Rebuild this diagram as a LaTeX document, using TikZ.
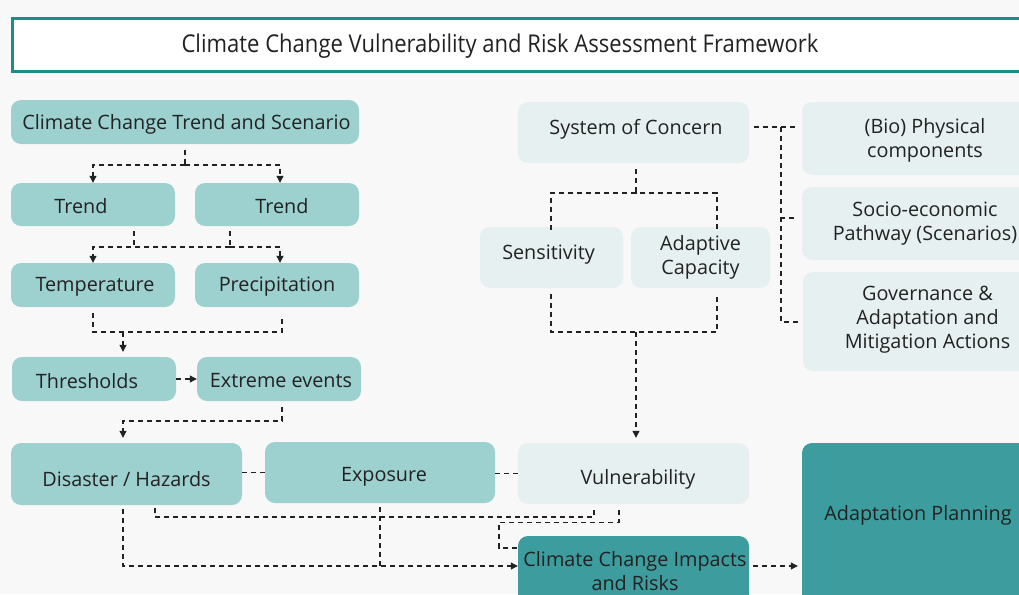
\documentclass[tikz,border=0pt]{standalone}
\usepackage{fontspec}
\setmainfont{Open Sans}
\newfontfamily\titlefont[FakeStretch=0.9]{Open Sans}
\usetikzlibrary{arrows.meta}
\definecolor{bg}{HTML}{F8F8F8}
\definecolor{midteal}{HTML}{9CD1D0}
\definecolor{lightteal}{HTML}{E6F0F1}
\definecolor{darkteal}{HTML}{3D9C9D}
\definecolor{frame}{HTML}{1F8C8C}
\definecolor{txt}{HTML}{222222}
\definecolor{linec}{HTML}{222222}
\tikzset{
  box/.style={rounded corners=10pt, draw=none, inner sep=0pt},
  mid/.style={box, fill=midteal},
  light/.style={box, fill=lightteal},
  dark/.style={box, fill=darkteal},
  lbl/.style={font=\fontsize{19.8}{24}\selectfont, text=txt, align=center, inner sep=0pt, yshift=-2pt},
  conn/.style={draw=linec, line width=1.1pt, dash pattern=on 5pt off 4pt},
  arr/.style={conn, -{Triangle[width=7pt,length=7pt]}},
  titlebox/.style={draw=frame, line width=3pt, fill=white},
}
\begin{document}
\begin{tikzpicture}[x=1pt,y=-1pt]
\useasboundingbox (0,0) rectangle (1019,594);
\clip (0,0) rectangle (1019,594);
\fill[bg] (0,0) rectangle (1019,594);

% title
\node[titlebox, minimum width=1040pt, minimum height=53pt, anchor=north west] (tbox) at (11,17) {};
\node[lbl, font=\titlefont\fontsize{24.5}{28}\selectfont] (title) at (500,44) {Climate Change Vulnerability and Risk Assessment Framework};

% left column
\node[mid, minimum width=348pt, minimum height=44pt, label={[lbl, xshift=1.5pt]center:Climate Change Trend and Scenario}] (ccts) at (185,122) {};
\node[mid, minimum width=164pt, minimum height=43pt, label={[lbl, xshift=-12pt]center:Trend}] (trend1) at (93,204.5) {};
\node[mid, minimum width=164pt, minimum height=43pt, label={[lbl, xshift=5pt]center:Trend}] (trend2) at (277,204.5) {};
\node[mid, minimum width=164pt, minimum height=44pt, label={[lbl, xshift=2pt]center:Temperature}] (temp) at (93,285) {};
\node[mid, minimum width=164pt, minimum height=44pt, label={[lbl]center:Precipitation}] (precip) at (277,285) {};
\node[mid, minimum width=164pt, minimum height=44pt, label={[lbl, xshift=-7pt]center:Thresholds}] (thresh) at (94,379) {};
\node[mid, minimum width=164pt, minimum height=44pt, label={[lbl, xshift=2pt]center:Extreme events}] (extreme) at (279,379) {};
\node[mid, minimum width=231pt, minimum height=62pt, label={[lbl, yshift=-3pt]center:Disaster / Hazards}] (disaster) at (126.5,474) {};
\node[mid, minimum width=230pt, minimum height=61pt, label={[lbl, xshift=4pt, yshift=-2.5pt]center:Exposure}] (exposure) at (380,472.5) {};

% middle column
\node[light, minimum width=231pt, minimum height=61pt, label={[lbl, xshift=2.5pt, yshift=5.5pt]center:System of Concern}] (soc) at (633.5,132.5) {};
\node[light, minimum width=143pt, minimum height=61pt, label={[lbl, xshift=-3pt, yshift=4.5pt]center:Sensitivity}] (sens) at (551.5,257.5) {};
\node[light, minimum width=139pt, minimum height=61pt, label={[lbl, yshift=2.5pt]center:Adaptive\\Capacity}] (adcap) at (700.5,257.5) {};
\node[light, minimum width=231pt, minimum height=61pt, label={[lbl, xshift=4.5pt, yshift=-3.5pt]center:Vulnerability}] (vuln) at (633.5,473.5) {};
\node[dark, minimum width=231pt, minimum height=68pt, label={[lbl, xshift=1.5pt, yshift=1pt]center:Climate Change Impacts\\and Risks}] (ccir) at (633.5,570) {};

% right column
\node[light, minimum width=246pt, minimum height=73pt, label={[lbl]center:(Bio) Physical\\components}] (bio) at (925,138.5) {};
\node[light, minimum width=246pt, minimum height=73pt, label={[lbl, yshift=1.5pt]center:Socio-economic\\Pathway (Scenarios)}] (socio) at (925,223.5) {};
\node[light, minimum width=245pt, minimum height=99pt, label={[lbl, yshift=3.5pt, xshift=2pt]center:Governance \&\\Adaptation and\\Mitigation Actions}] (gov) at (925.5,321.5) {};
\node[dark, minimum width=246pt, minimum height=177pt, label={[lbl, xshift=-7pt, yshift=18.5pt]center:Adaptation Planning}] (ap) at (925,531.5) {};

% connectors: left column
\coordinate (j1) at (185,165);
\draw[conn] ([yshift=-6pt]ccts.south) -- (j1);
\draw[arr] (j1) -| (trend1.north);
\draw[arr] (j1) -| ([xshift=3pt]trend2.north);

\coordinate (j2a) at (134,247);
\coordinate (j2b) at (230,247);
\draw[conn] ([yshift=-5pt]trend1.south -| j2a) -- (j2a);
\draw[conn] ([yshift=-5pt]trend2.south -| j2b) -- (j2b);
\draw[arr] (j2b) -| ([xshift=3pt]precip.north);
\draw[arr] (j2b) -- (j2a) -| (temp.north);

\coordinate (j3) at (123,332);
\draw[conn] ([yshift=-6pt]temp.south) -- (temp.south |- j3) -- ([xshift=5pt]precip.south |- j3) -- ([xshift=5pt, yshift=-9pt]precip.south);
\draw[arr] (j3) -- ([yshift=5pt]j3 |- thresh.north);
\draw[arr] (thresh.east) -- (extreme.west);

\coordinate (j4) at (123,421);
\draw[arr] ([xshift=3pt, yshift=-6pt]extreme.south) |- (j4) -- ([yshift=5pt]j4 |- disaster.north);

\draw[conn] ([yshift=1.5pt]disaster.east) -- ([yshift=1.5pt]disaster.east -| exposure.west);
\draw[conn] ([yshift=-1pt]exposure.east) -- ([yshift=-1pt]exposure.east -| vuln.west);

% connectors: middle column
\coordinate (j5) at (636,193);
\draw[conn] ([yshift=-6pt]soc.south -| j5) -- (j5);
\draw[conn] ([yshift=-3pt]sens.north -| 551,0) |- (j5) -| ([xshift=16.5pt, yshift=-3pt]adcap.north);

\coordinate (j6) at (636,332);
\draw[conn] ([yshift=-6pt]sens.south -| 551,0) |- ([xshift=16.5pt]adcap.south |- j6) -- ([xshift=16.5pt, yshift=-6pt]adcap.south);
\draw[arr] (j6) -- ([yshift=5pt]j6 |- vuln.north);

% connectors: system of concern to right column
\coordinate (j7) at (781,127);
\draw[conn] ([xshift=5pt]soc.east |- j7) -- (j7) -- ([xshift=-4pt]j7 -| bio.west);
\draw[conn] (j7) |- ([xshift=-4pt, yshift=5.5pt]socio.west);
\draw[conn] (j7) |- ([xshift=-4pt, yshift=-0.5pt]gov.west);

% connectors: bottom
\coordinate (j8) at (123,566);
\draw[arr] ([yshift=-4pt]j8 |- disaster.south) -- (j8) -- (j8 -| ccir.west);
\draw[conn] ([yshift=-4pt]exposure.south) -- (exposure.south |- j8);
\coordinate (j9) at (155,517);
\draw[conn] ([yshift=-3pt]j9 |- disaster.south) -- (j9) -| ([xshift=-39.5pt, yshift=-4pt]vuln.south);
\draw[conn] ([xshift=-14.5pt, yshift=-6pt]vuln.south) -- ++(0,12) -- ++(-120,0) |- ([yshift=22pt]ccir.west);
\draw[arr] ([xshift=4pt, yshift=4pt]ccir.east) -- ([yshift=4pt, xshift=-4pt]ccir.east -| ap.west);
\end{tikzpicture}
\end{document}
